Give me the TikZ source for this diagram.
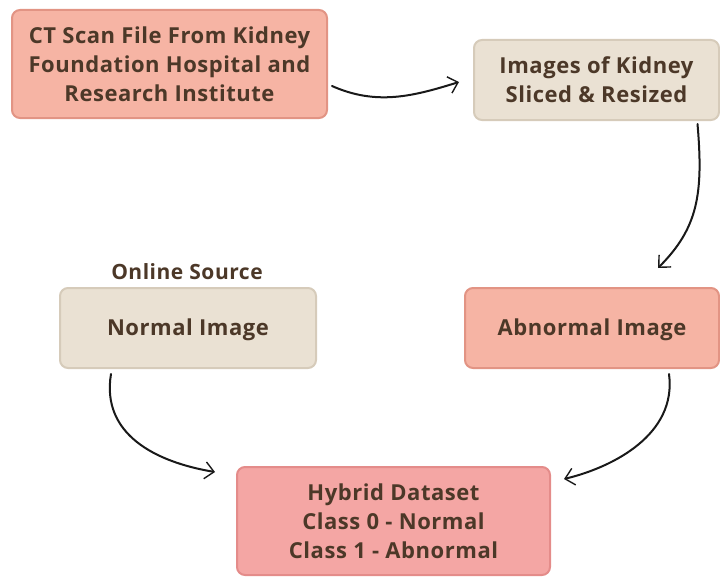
\documentclass[tikz,border=0pt]{standalone}
\usepackage{fontspec}
\setmainfont{Open Sans}[LetterSpace=2.5]
\usetikzlibrary{arrows.meta,calc}
\definecolor{salmonfill}{RGB}{246,180,164}
\definecolor{salmonline}{RGB}{226,148,132}
\definecolor{rosefill}{RGB}{244,166,164}
\definecolor{roseline}{RGB}{228,140,138}
\definecolor{beigefill}{RGB}{234,225,211}
\definecolor{beigeline}{RGB}{214,203,186}
\definecolor{inktext}{RGB}{76,56,40}
\definecolor{inkline}{RGB}{25,25,25}
\tikzset{
  box/.style={rectangle, rounded corners=8pt, line width=2pt, align=center,
    font=\fontsize{22}{29}\selectfont\bfseries, text=inktext, inner sep=0pt},
  salmonbox/.style={box, fill=salmonfill, draw=salmonline},
  rosebox/.style={box, fill=rosefill, draw=roseline},
  beigebox/.style={box, fill=beigefill, draw=beigeline},
  oneline/.style={text height=16pt, text depth=2pt},
  caption/.style={font=\fontsize{21}{29}\selectfont\bfseries, text=inktext},
  flow/.style={draw=inkline, line width=2pt, line cap=round,
    -{Straight Barb[length=9pt,width=17pt,line width=1.4pt]}}
}
\begin{document}
\begin{tikzpicture}[x=1pt,y=-1pt]
\useasboundingbox (0,0) rectangle (720,578);

% data sources and processing steps
\node[salmonbox, minimum width=315pt, minimum height=108pt] (ct) at (169.5,64)
  {CT Scan File From Kidney\\Foundation Hospital and\\Research Institute};
\node[beigebox, minimum width=245pt, minimum height=80pt] (slice) at (596.5,80)
  {Images of Kidney\\Sliced \& Resized};
\node[beigebox, oneline, minimum width=256pt, minimum height=80pt] (normal) at (188,328)
  {Normal Image};
\node[caption] (online) at (187,272) {Online Source};
\node[salmonbox, oneline, minimum width=254pt, minimum height=80pt] (abnormal) at (592,328)
  {Abnormal Image};
\node[rosebox, minimum width=313pt, minimum height=108pt] (hybrid) at (393.5,521)
  {Hybrid Dataset\\Class 0 - Normal\\Class 1 - Abnormal};

% hand-drawn style connectors
\coordinate (a1s) at ($(ct.east)+(4,22)$);
\coordinate (a1e) at ($(slice.west)+(-14,2)$);
\draw[flow] (a1s) .. controls +(45,20) and +(-45,14) .. (a1e);

\coordinate (a2s) at ($(slice.south)+(101,3)$);
\coordinate (a2e) at ($(abnormal.north)+(66,-19)$);
\draw[flow] (a2s) .. controls +(6,70) and +(40,-40) .. (a2e);

\coordinate (a3s) at ($(normal.south)+(-77,5)$);
\coordinate (a3e) at ($(hybrid.north west)+(-21,6)$);
\draw[flow] (a3s) .. controls +(-10,60) and +(-60,-10) .. (a3e);

\coordinate (a4s) at ($(abnormal.south)+(77,5)$);
\coordinate (a4e) at ($(hybrid.north east)+(13,13)$);
\draw[flow] (a4s) .. controls +(8,60) and +(50,-12) .. (a4e);
\end{tikzpicture}
\end{document}
